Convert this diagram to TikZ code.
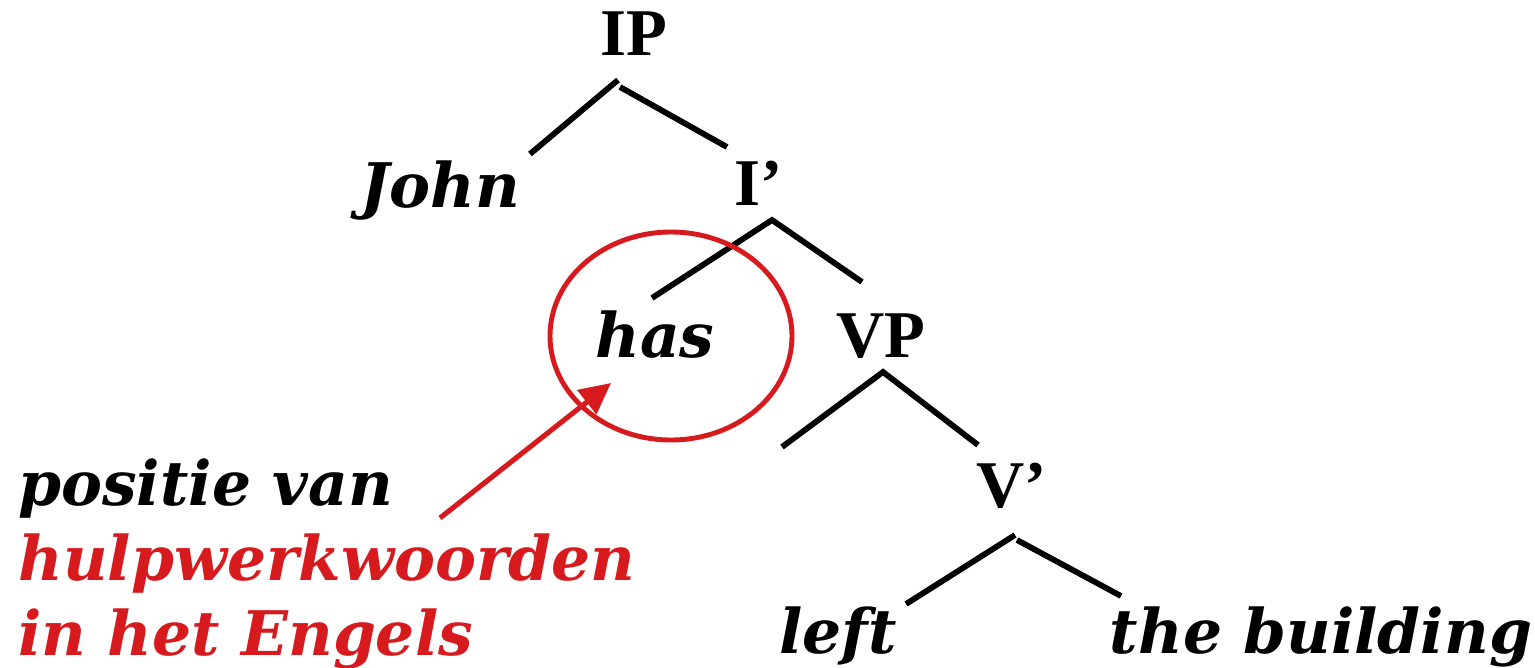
\documentclass[tikz,border=0pt]{standalone}
\usepackage{fontspec}
\setmainfont{Liberation Serif}
\newfontfamily\wordfont{DejaVu Serif}
\usetikzlibrary{arrows.meta, positioning, calc}
\definecolor{hlred}{RGB}{214, 26, 30}

\begin{document}
\begin{tikzpicture}[
    x=0.02cm, y=-0.02cm,
    cat/.style={font=\fontsize{38}{40}\selectfont\bfseries, inner sep=0pt, anchor=base},
    word/.style={font=\wordfont\fontsize{35}{40}\selectfont\bfseries\itshape, inner sep=0pt, anchor=base},
    note/.style={word, anchor=base west},
    branch/.style={line width=3.3pt},
    ring/.style={draw=hlred, line width=2.8pt},
    pointer/.style={-{Triangle[length=6.2mm, width=6mm]}, line width=2.9pt, hlred},
]
\useasboundingbox (0,0) rectangle (1535,667);

% --- categories ---
\node[cat] (IP) at (634,55) {IP};
\node[cat] (Ibar) at (759,205) {I'};
\node[cat] (VP) at (881,357) {VP};
\node[cat] (Vbar) at (1012,507) {V'};

% --- words ---
\node[word] (john) at (440,207) {John};
\node[word] (has) at (655,357) {has};
\node[word] (left) at (838,653) {left};
\node[word] (obj) at (1321,653) {the building};

% --- branch ends ---
\coordinate (IP-a) at (618,80);
\coordinate (IP-b) at (620,87);
\coordinate (john-t) at (530,154);
\coordinate (Ibar-t) at (727,147);
\coordinate (Ibar-a) at (772,220);
\coordinate (has-t) at (652,298);
\coordinate (VP-t) at (862,282);
\coordinate (VP-a) at (883,372);
\coordinate (vleft-t) at (782,447);
\coordinate (Vbar-t) at (978,445);
\coordinate (Vbar-a) at (1015,535);
\coordinate (Vbar-b) at (1017,540);
\coordinate (left-t) at (906,604);
\coordinate (obj-t) at (1121,596);

% --- tree ---
\draw[branch] (IP-a) -- (john-t);
\draw[branch] (IP-b) -- (Ibar-t);
\draw[branch] (has-t) -- (Ibar-a) -- (VP-t);
\draw[branch] (vleft-t) -- (VP-a) -- (Vbar-t);
\draw[branch] (Vbar-a) -- (left-t);
\draw[branch] (Vbar-b) -- (obj-t);

% --- highlight ---
\draw[ring] (671,336) ellipse [x radius=121, y radius=104];

\node[note] (note1) at (18,505) {positie van};
\node[note, hlred] (note2) at (18,580) {hulpwerkwoorden};
\node[note, hlred] (note3) at (18,655) {in het Engels};

\coordinate (arrtail) at (440,518);
\coordinate (arrtip) at (611,383);
\draw[pointer] (arrtail) -- (arrtip);

\end{tikzpicture}
\end{document}
